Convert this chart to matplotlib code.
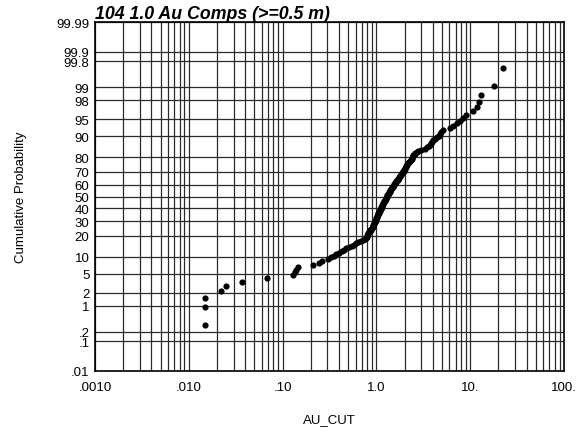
import numpy as np
import matplotlib
matplotlib.use("Agg")
from matplotlib import pyplot as plt
from statistics import NormalDist

# sorted AU_CUT composite values
au_cut = [0.015, 0.015, 0.015, 0.022, 0.025, 0.037, 0.069, 0.129, 0.134, 0.140,
          0.147, 0.21, 0.245, 0.26, 0.305, 0.325, 0.35, 0.375, 0.40, 0.43,
          0.455, 0.48, 0.51, 0.545, 0.575, 0.60, 0.64, 0.685, 0.72, 0.76,
          0.77, 0.785, 0.80, 0.81, 0.82, 0.83, 0.845, 0.86, 0.87, 0.885,
          0.90, 0.91, 0.92, 0.93, 0.935, 0.945, 0.955, 0.96, 0.97, 0.98,
          0.99, 1.0, 1.005, 1.01, 1.02, 1.03, 1.04, 1.05, 1.06, 1.07,
          1.08, 1.09, 1.10, 1.11, 1.12, 1.13, 1.14, 1.15, 1.16, 1.17,
          1.18, 1.19, 1.21, 1.22, 1.24, 1.25, 1.26, 1.27, 1.28, 1.29,
          1.30, 1.31, 1.32, 1.34, 1.35, 1.37, 1.38, 1.40, 1.41, 1.42,
          1.44, 1.45, 1.47, 1.49, 1.51, 1.53, 1.55, 1.57, 1.59, 1.61,
          1.63, 1.65, 1.68, 1.71, 1.73, 1.75, 1.78, 1.80, 1.83, 1.85,
          1.88, 1.90, 1.93, 1.95, 1.98, 2.02, 2.04, 2.07, 2.09, 2.12,
          2.14, 2.16, 2.19, 2.24, 2.29, 2.33, 2.38, 2.41, 2.44, 2.47,
          2.55, 2.6, 2.7, 2.8, 3.0, 3.3, 3.5, 3.6, 3.7, 3.8,
          3.9, 4.04, 4.2, 4.4, 4.6, 4.76, 4.9, 5.09, 6.09, 6.61,
          7.18, 7.78, 8.44, 9.02, 10.8, 11.9, 12.3, 12.9, 17.9, 22.5]

x_ticks = [0.001, 0.01, 0.1, 1.0, 10.0, 100.0]
x_labels = [".0010", ".010", ".10", "1.0", "10.", "100."]
y_ticks = [0.01, 0.1, 0.2, 1, 2, 5, 10, 20, 30, 40, 50, 60, 70, 80, 90, 95, 98, 99, 99.8, 99.9, 99.99]
y_labels = [".01", ".1", ".2", "1", "2", "5", "10", "20", "30", "40", "50", "60", "70", "80", "90",
            "95", "98", "99", "99.8", "99.9", "99.99"]

# cumulative probability (plotting position) for each sorted value
n = len(au_cut)
cum_prob = [(i + 0.5) / n * 100 for i in range(n)]

nd = NormalDist()
_ppf = np.vectorize(lambda p: nd.inv_cdf(p), otypes=[float])
_cdf = np.vectorize(lambda z: nd.cdf(z), otypes=[float])

def probit(p):
    p = np.clip(np.asarray(p, dtype=float), 1e-7, 100 - 1e-7)
    return _ppf(p / 100.0)

def inv_probit(z):
    return _cdf(np.asarray(z, dtype=float)) * 100.0

plt.rcParams["font.family"] = ["Liberation Sans", "DejaVu Sans"]

fig = plt.figure(figsize=(5.87, 4.31), dpi=100)
ax = fig.add_axes([0.1618, 0.1369, 0.799, 0.8097])

ax.set_xscale("log")
ax.set_yscale("function", functions=(probit, inv_probit))
ax.set_xlim(0.001, 100)
ax.set_ylim(0.01, 99.99)

# grid: every 1..9 in each decade, and every labelled probability
grid_col = "#2a2a2a"
for dec in [0.001, 0.01, 0.1, 1, 10]:
    for m in range(1, 10):
        ax.axvline(dec * m, color=grid_col, lw=0.9, zorder=1)
for yt in y_ticks:
    ax.axhline(yt, color=grid_col, lw=0.9, zorder=1)

ax.scatter(au_cut, cum_prob, s=20, color="black", zorder=3, linewidths=0)

ax.set_xticks(x_ticks)
ax.set_xticklabels(x_labels)
ax.xaxis.set_minor_locator(matplotlib.ticker.NullLocator())
ax.set_yticks(y_ticks)
ax.set_yticklabels(y_labels)
ax.yaxis.set_minor_locator(matplotlib.ticker.NullLocator())
ax.tick_params(axis="both", length=0, labelsize=9.5)
ax.tick_params(axis="x", pad=7)
ax.tick_params(axis="y", pad=4)

for sp in ax.spines.values():
    sp.set_color("black")
    sp.set_linewidth(1.2)

ax.set_title("104 1.0 Au Comps (>=0.5 m)", loc="left", fontsize=12.8,
             fontweight="bold", fontstyle="italic", pad=2)
ax.set_xlabel("AU_CUT", fontsize=9.5)
ax.xaxis.set_label_coords(0.5, -0.12)
ax.set_ylabel("Cumulative Probability", fontsize=9.5)
ax.yaxis.set_label_coords(-0.145, 0.5)

plt.savefig("out.png", dpi=100)
